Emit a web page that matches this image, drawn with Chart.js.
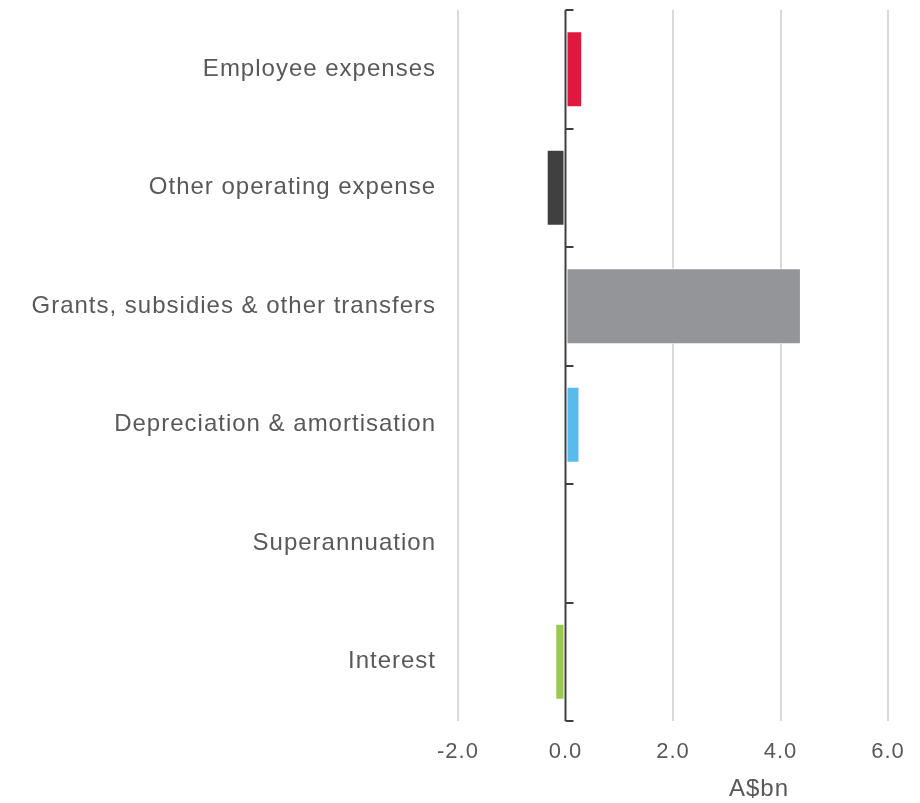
<html>
  <head>
    <title>Expense variations</title>
    <style>
      html, body { margin: 0; padding: 0; background: #ffffff; }
    </style>
  </head>
  <body>
    <canvas id="chart-expenses" width="920" height="803"></canvas>

    <script src="https://cdn.jsdelivr.net/npm/chart.js@4"></script>
    <script type="text/javascript">
      const categories = [
        'Employee expenses',
        'Other operating expense',
        'Grants, subsidies & other transfers',
        'Depreciation & amortisation',
        'Superannuation',
        'Interest',
      ];
      const values = [0.31, -0.35, 4.38, 0.26, 0.0, -0.19];
      const barColours = ['#e2173f', '#404041', '#939598', '#59bbea', '#939598', '#9ac94b'];
      const xTicks = [-2, 0, 2, 4, 6];
      const unitLabel = 'A$bn';

      const textColour = '#595959';
      const fontFamily = '"Liberation Sans", Arial, sans-serif';
      const spacing = '1px';

      // slightly wider text: letter spacing has to be set again whenever the canvas state resets
      const wideText = {
        id: 'wideText',
        beforeLayout(chart) { chart.ctx.letterSpacing = spacing; },
        beforeDraw(chart) { chart.ctx.letterSpacing = spacing; },
      };

      // dark zero line with small tick marks between the categories
      const zeroAxis = {
        id: 'zeroAxis',
        afterDatasetsDraw(chart) {
          const { ctx, chartArea, scales } = chart;
          const x0 = Math.round(scales.x.getPixelForValue(0)) - 0.5;
          const band = scales.y.getPixelForValue(1) - scales.y.getPixelForValue(0);
          ctx.save();
          ctx.strokeStyle = '#404040';
          ctx.lineWidth = 2;
          ctx.beginPath();
          ctx.moveTo(x0, chartArea.top);
          ctx.lineTo(x0, chartArea.bottom);
          for (let i = 0; i <= categories.length; i++) {
            const y = Math.round(scales.y.getPixelForValue(i) - band / 2);
            ctx.moveTo(x0, y);
            ctx.lineTo(x0 + 8, y);
          }
          ctx.stroke();
          ctx.restore();
        },
        afterDraw(chart) {
          const { ctx, scales } = chart;
          ctx.save();
          ctx.letterSpacing = spacing;
          ctx.fillStyle = textColour;
          ctx.font = '24px ' + fontFamily;
          ctx.textAlign = 'center';
          ctx.textBaseline = 'middle';
          ctx.fillText(unitLabel, scales.x.getPixelForValue(3.6), 789);
          ctx.restore();
        },
      };

      new Chart(document.getElementById('chart-expenses'), {
        type: 'bar',
        data: {
          labels: categories,
          datasets: [
            {
              data: values,
              backgroundColor: barColours,
              borderColor: '#ffffff',
              borderWidth: 1,
              borderSkipped: false,
              categoryPercentage: 1,
              barPercentage: 0.64,
            },
          ],
        },
        options: {
          indexAxis: 'y',
          responsive: false,
          animation: false,
          layout: { padding: { top: 10, right: 32, left: 0, bottom: 0 } },
          plugins: {
            legend: { display: false },
            tooltip: { enabled: false },
          },
          scales: {
            x: {
              min: -2,
              max: 6,
              afterBuildTicks: (s) => { s.ticks = xTicks.map((v) => ({ value: v })); },
              afterFit: (s) => {
                s.height = 82;
                s.paddingLeft = 0;
                s.paddingRight = 0;
              },
              border: { display: false },
              grid: {
                color: (c) => (c.tick && c.tick.value === 0 ? 'rgba(0,0,0,0)' : '#d9d9d9'),
                lineWidth: 2,
                drawTicks: false,
              },
              ticks: {
                color: textColour,
                font: { family: fontFamily, size: 22 },
                padding: 18,
                callback: (v) => v.toFixed(1),
              },
            },
            y: {
              afterFit: (s) => {
                s.width = 458;
                s.paddingTop = 0;
                s.paddingBottom = 0;
              },
              border: { display: false },
              grid: { display: false, drawTicks: false },
              ticks: {
                color: textColour,
                font: { family: fontFamily, size: 24 },
                padding: 22,
              },
            },
          },
        },
        plugins: [wideText, zeroAxis],
      });
    </script>
  </body>
</html>
